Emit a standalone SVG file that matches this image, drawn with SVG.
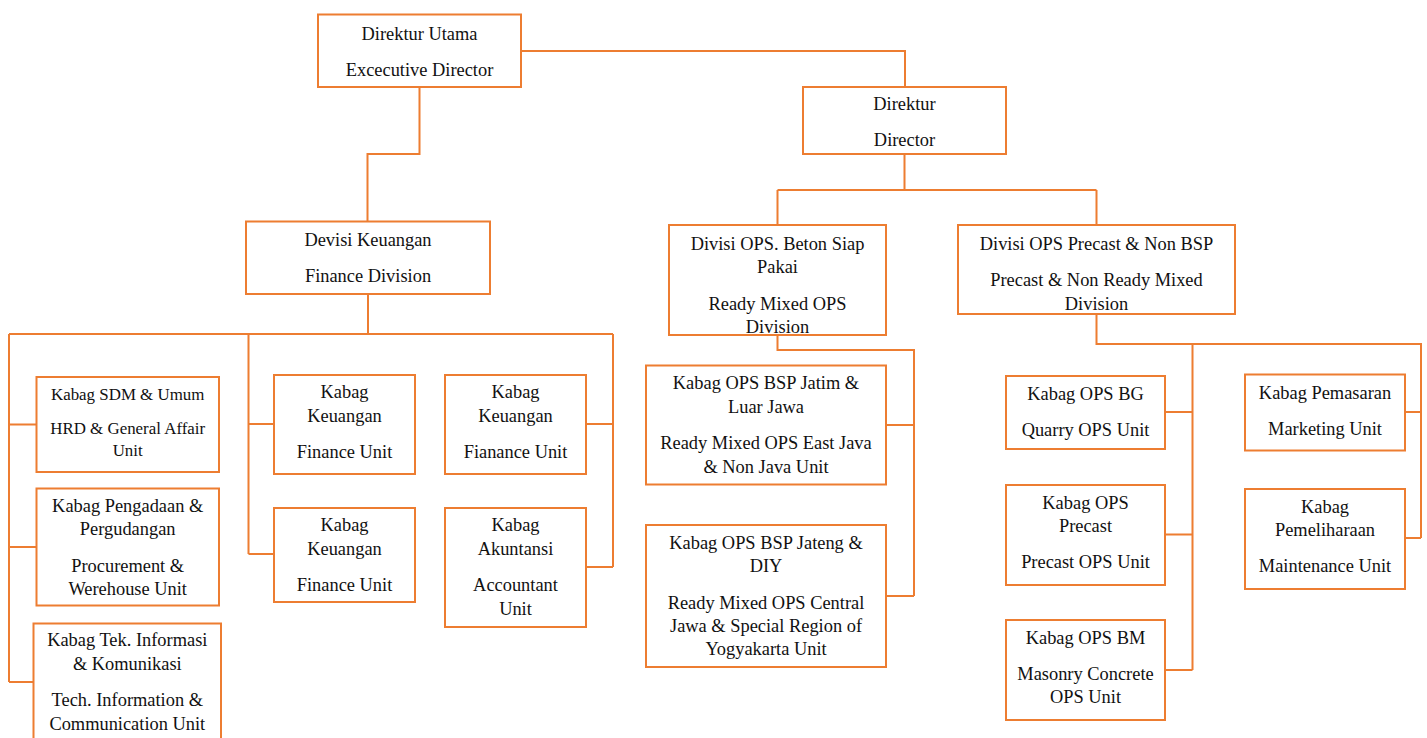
<svg xmlns="http://www.w3.org/2000/svg" width="1427" height="738" viewBox="0 0 1427 738">
<style>
.box{fill:#ffffff;stroke:#ED7D31;stroke-width:2}
.conn{fill:none;stroke:#ED7D31;stroke-width:2}
text{font-family:'Liberation Serif','Times New Roman',Times,serif;font-size:18.4px;fill:#111111;text-anchor:middle}
.small{font-size:16.9px}
</style>
<rect width="1427" height="738" fill="#ffffff"/>
<g id="connectors">
<path class="conn" d="M521,51 H905 V87"/>
<path class="conn" d="M419.5,87 V154 H367.5 V221"/>
<path class="conn" d="M368,294 V334"/>
<path class="conn" d="M9,334 H613"/>
<path class="conn" d="M9,334 V682"/>
<path class="conn" d="M9,424.5 H36.5 M9,547 H36.5 M9,682 H33.5"/>
<path class="conn" d="M248.5,334 V554 M248.5,424 H274 M248.5,554 H274"/>
<path class="conn" d="M613,334 V567 M586,424 H613 M586,567 H613"/>
<path class="conn" d="M904.5,154 V190 M777.5,190 H1096.5 M777.5,190 V225 M1096.5,190 V225"/>
<path class="conn" d="M777.5,335 V350 H914 V596 M886,425 H914 M886,596 H914"/>
<path class="conn" d="M1096.5,314 V344 H1421 V538 M1192.5,344 V670 M1165,412 H1192.5 M1165,534.5 H1192.5 M1165,670 H1192.5 M1405,412 H1421 M1405,538 H1421"/>
</g>
<g id="direktur-utama">
<rect class="box" x="318" y="14.5" width="203" height="72.5"/>
<text x="419.5" y="39.5">Direktur Utama</text>
<text x="419.5" y="76">Excecutive Director</text>
</g>
<g id="direktur">
<rect class="box" x="803" y="87" width="203" height="67"/>
<text x="904.5" y="109.5">Direktur</text>
<text x="904.5" y="145.5">Director</text>
</g>
<g id="devisi-keuangan">
<rect class="box" x="246" y="221.5" width="244" height="72.5"/>
<text x="368" y="246">Devisi Keuangan</text>
<text x="368" y="282">Finance Division</text>
</g>
<g id="divisi-beton">
<rect class="box" x="669" y="225" width="217" height="110"/>
<text x="777.5" y="249.5">Divisi OPS. Beton Siap</text>
<text x="777.5" y="273">Pakai</text>
<text x="777.5" y="309.5">Ready Mixed OPS</text>
<text x="777.5" y="333">Division</text>
</g>
<g id="divisi-precast">
<rect class="box" x="958" y="225" width="277" height="89"/>
<text x="1096.5" y="249.5">Divisi OPS Precast &amp; Non BSP</text>
<text x="1096.5" y="285.5">Precast &amp; Non Ready Mixed</text>
<text x="1096.5" y="309.5">Division</text>
</g>
<g id="kabag-sdm">
<rect class="box" x="36.5" y="377" width="182.5" height="95"/>
<text class="small" x="127.7" y="399.5">Kabag SDM &amp; Umum</text>
<text class="small" x="127.7" y="433.5">HRD &amp; General Affair</text>
<text class="small" x="127.7" y="456">Unit</text>
</g>
<g id="kabag-pengadaan">
<rect class="box" x="36.5" y="488.5" width="182.5" height="117"/>
<text x="127.7" y="512">Kabag Pengadaan &amp;</text>
<text x="127.7" y="535">Pergudangan</text>
<text x="127.7" y="572">Procurement &amp;</text>
<text x="127.7" y="595">Werehouse Unit</text>
</g>
<g id="kabag-tek">
<rect class="box" x="33.5" y="623.5" width="187.5" height="125"/>
<text x="127.3" y="646">Kabag Tek. Informasi</text>
<text x="127.3" y="669.5">&amp; Komunikasi</text>
<text x="127.3" y="706">Tech. Information &amp;</text>
<text x="127.3" y="729.5">Communication Unit</text>
</g>
<g id="kabag-keuangan-1">
<rect class="box" x="274" y="375" width="141" height="99"/>
<text x="344.5" y="398">Kabag</text>
<text x="344.5" y="422">Keuangan</text>
<text x="344.5" y="458">Finance Unit</text>
</g>
<g id="kabag-keuangan-2">
<rect class="box" x="274" y="508" width="141" height="94"/>
<text x="344.5" y="531">Kabag</text>
<text x="344.5" y="555">Keuangan</text>
<text x="344.5" y="591">Finance Unit</text>
</g>
<g id="kabag-keuangan-3">
<rect class="box" x="445" y="375" width="141" height="99"/>
<text x="515.5" y="398">Kabag</text>
<text x="515.5" y="422">Keuangan</text>
<text x="515.5" y="458">Fianance Unit</text>
</g>
<g id="kabag-akuntansi">
<rect class="box" x="445" y="508" width="141" height="119"/>
<text x="515.5" y="531">Kabag</text>
<text x="515.5" y="555">Akuntansi</text>
<text x="515.5" y="591">Accountant</text>
<text x="515.5" y="614.5">Unit</text>
</g>
<g id="kabag-jatim">
<rect class="box" x="646" y="365.5" width="240" height="119"/>
<text x="766" y="389">Kabag OPS BSP Jatim &amp;</text>
<text x="766" y="413">Luar Jawa</text>
<text x="766" y="449">Ready Mixed OPS East Java</text>
<text x="766" y="472.5">&amp; Non Java Unit</text>
</g>
<g id="kabag-jateng">
<rect class="box" x="646" y="525" width="240" height="142"/>
<text x="766" y="548.5">Kabag OPS BSP Jateng &amp;</text>
<text x="766" y="572">DIY</text>
<text x="766" y="608.5">Ready Mixed OPS Central</text>
<text x="766" y="632">Jawa &amp; Special Region of</text>
<text x="766" y="655">Yogyakarta Unit</text>
</g>
<g id="kabag-ops-bg">
<rect class="box" x="1006" y="376" width="159" height="73"/>
<text x="1085.5" y="400">Kabag OPS BG</text>
<text x="1085.5" y="436">Quarry OPS Unit</text>
</g>
<g id="kabag-ops-precast">
<rect class="box" x="1006" y="485" width="159" height="100"/>
<text x="1085.5" y="508.5">Kabag OPS</text>
<text x="1085.5" y="532">Precast</text>
<text x="1085.5" y="568">Precast OPS Unit</text>
</g>
<g id="kabag-ops-bm">
<rect class="box" x="1006" y="620" width="159" height="100"/>
<text x="1085.5" y="643.5">Kabag OPS BM</text>
<text x="1085.5" y="679.5">Masonry Concrete</text>
<text x="1085.5" y="703">OPS Unit</text>
</g>
<g id="kabag-pemasaran">
<rect class="box" x="1245" y="374.5" width="160" height="76"/>
<text x="1325" y="398.5">Kabag Pemasaran</text>
<text x="1325" y="434.5">Marketing Unit</text>
</g>
<g id="kabag-pemeliharaan">
<rect class="box" x="1245" y="489" width="160" height="100"/>
<text x="1325" y="512.5">Kabag</text>
<text x="1325" y="536">Pemeliharaan</text>
<text x="1325" y="572">Maintenance Unit</text>
</g>
</svg>
